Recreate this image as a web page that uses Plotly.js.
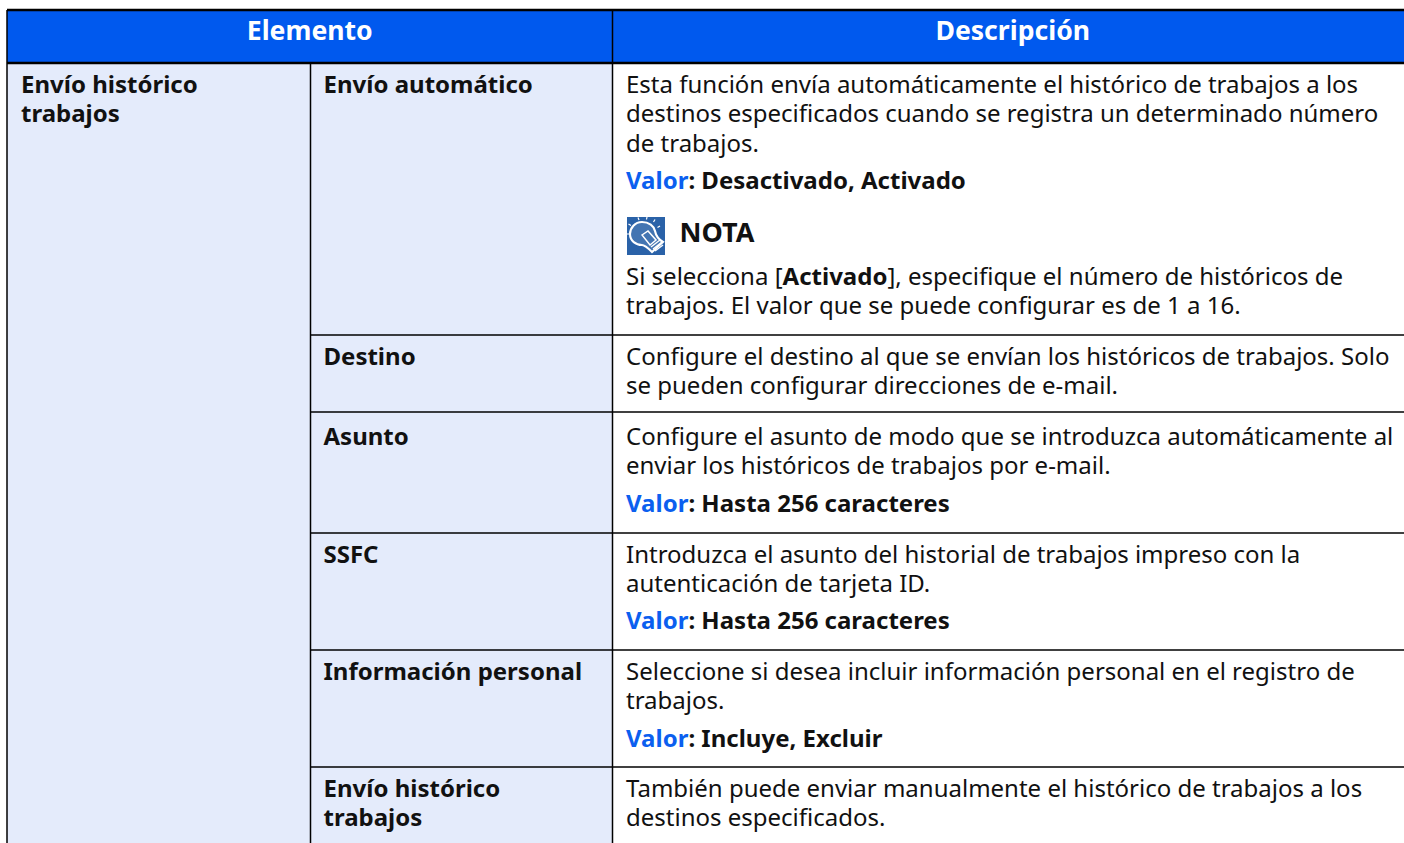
<!DOCTYPE html>
<html><head><meta charset="utf-8">
<script src="https://cdn.plot.ly/plotly-3.0.1.min.js"></script>
<style>html,body{margin:0;padding:0;background:#fff;overflow:hidden}</style>
</head><body><div id="chart" style="width:1404px;height:843px"></div>
<script>
// ---------- content ----------
const headers = ["Elemento", "Descripción"];
const groupLabel = ["Envío histórico", "trabajos"];
const items = [
  ["Envío automático"],
  ["Destino"],
  ["Asunto"],
  ["SSFC"],
  ["Información personal"],
  ["Envío histórico", "trabajos"]
];
const V = t => '<span style="color:#0B5FEF"><b>Valor</b></span><b>: ' + t + '</b>';
const desc1 = ["Esta función envía automáticamente el histórico de trabajos a los",
  "destinos especificados cuando se registra un determinado número",
  "de trabajos."];
const desc1Value = V("Desactivado, Activado");
const noteTitle = "NOTA";
const note = ["Si selecciona [<b>Activado</b>], especifique el número de históricos de",
  "trabajos. El valor que se puede configurar es de 1 a 16."];
const desc2 = ["Configure el destino al que se envían los históricos de trabajos. Solo",
  "se pueden configurar direcciones de e-mail."];
const desc3 = ["Configure el asunto de modo que se introduzca automáticamente al",
  "enviar los históricos de trabajos por e-mail."];
const desc3Value = V("Hasta 256 caracteres");
const desc4 = ["Introduzca el asunto del historial de trabajos impreso con la",
  "autenticación de tarjeta ID."];
const desc4Value = V("Hasta 256 caracteres");
const desc5 = ["Seleccione si desea incluir información personal en el registro de",
  "trabajos."];
const desc5Value = V("Incluye, Excluir");
const desc6 = ["También puede enviar manualmente el histórico de trabajos a los",
  "destinos especificados."];

// ---------- layout of the table on pixel-scaled axes ----------
const FONT = '"Noto Sans", sans-serif', SIZE = 24;
const colX = [7, 310.5, 612.5, 1404];
const rowY = [10, 63, 335, 412, 533, 650, 767, 843];
const xItem = [21, 323.5, 626];
const LH = 29.4, DY = 2;
const BLACK = '#111', HEAD = '#0059EE', CELL = '#E4EBFB';

const shapes = [];
const rect = (x0, y0, x1, y1, c) => shapes.push({type:'rect', xref:'x', yref:'y', x0, y0, x1, y1, fillcolor:c, line:{width:0}, layer:'below'});
const line = (x0, y0, x1, y1, w) => shapes.push({type:'line', xref:'x', yref:'y', x0, y0, x1, y1, line:{color:'#000', width:w}, layer:'below'});

rect(colX[0], rowY[0], colX[3], rowY[1], HEAD);
rect(colX[0], rowY[1], colX[2], rowY[7], CELL);
line(colX[0], rowY[0], colX[3], rowY[0], 2.5);
line(colX[0], rowY[1], colX[3], rowY[1], 2.5);
line(colX[0], rowY[0], colX[0], rowY[7], 1.5);
line(colX[2], rowY[0], colX[2], rowY[7], 1.5);
line(colX[1], rowY[1], colX[1], rowY[7], 1.5);
for (let i = 2; i < 7; i++) line(colX[1], rowY[i], colX[3], rowY[i], 1.5);

// NOTA icon
const P = (d, fill, w) => shapes.push({type:'path', xref:'x', yref:'y', path:d, fillcolor:fill, line:{color:'#fff', width:w}, layer:'below'});
const ix = v => v + 627, iy = v => v + 217;
rect(ix(0), iy(0), ix(38), iy(38), '#2A62A8');
const pts = a => a.map((p,i)=>(i?'L':'M')+ix(p[0])+','+iy(p[1])).join(' ');
const NONE = 'rgba(0,0,0,0)';
P('M'+ix(15)+','+iy(5)+' C'+ix(8)+','+iy(5)+' '+ix(3)+','+iy(11)+' '+ix(3)+','+iy(17)+' C'+ix(3)+','+iy(24)+' '+ix(9)+','+iy(28)+' '+ix(15)+','+iy(28)+' C'+ix(18)+','+iy(28)+' '+ix(21)+','+iy(31)+' '+ix(25)+','+iy(35)+' L'+ix(36)+','+iy(25)+' C'+ix(31)+','+iy(22)+' '+ix(29)+','+iy(19)+' '+ix(28)+','+iy(14)+' C'+ix(27)+','+iy(9)+' '+ix(22)+','+iy(5)+' '+ix(15)+','+iy(5)+' Z', 'rgba(255,255,255,0.12)', 2.1);
P(pts([[15,18],[21,14],[29,23],[23,28]])+' Z', NONE, 1.5);
[[[24,30],[33,23]],[[26,32],[35,25]],[[28,34],[36,28]]].forEach(a=>P(pts(a),NONE,1.4));
[[[11,0.5],[12,3]],[[20,0],[19.5,2.5]],[[28,2.5],[26.5,5]],[[1.5,7],[4,8.5]],[[0,17],[2,17]],[[33,9],[30.5,10.5]]].forEach(a=>P(pts(a),NONE,1.2));

// text traces
const T = {x:[], y:[], t:[]}, H = {x:[], y:[], t:[]}, N = {x:[], y:[], t:[]};
const add = (x, y, lines, bold) => lines.forEach((s,i)=>{T.x.push(x);T.y.push(y+DY+i*LH);T.t.push(bold?'<b>'+s+'</b>':s);});
H.x.push((colX[0]+colX[2])/2,(colX[2]+colX[3])/2+4.5); H.y.push(33,33); H.t.push('<b>'+headers[0]+'</b>','<b>'+headers[1]+'</b>');
add(xItem[0], 85, groupLabel, true);
[85,357,437,555,672,789].forEach((y,i)=>add(xItem[1], y, items[i], true));
add(xItem[2], 85, desc1); add(xItem[2], 181, [desc1Value]);
N.x.push(679.5); N.y.push(235.5); N.t.push('<b>'+noteTitle+'</b>');
add(xItem[2], 277, note);
add(xItem[2], 357, desc2);
add(xItem[2], 437, desc3); add(xItem[2], 504, [desc3Value]);
add(xItem[2], 555, desc4); add(xItem[2], 621, [desc4Value]);
add(xItem[2], 672, desc5); add(xItem[2], 739, [desc5Value]);
add(xItem[2], 789, desc6);

const tr = (o, pos, size, color) => ({type:'scatter', mode:'text', x:o.x, y:o.y, text:o.t, textposition:pos, cliponaxis:false, hoverinfo:'skip', showlegend:false,
  textfont:{family:FONT, size, color}});
const traces = [tr(H,'middle center',26.6,'#fff'), tr(T,'middle right',SIZE,BLACK), tr(N,'middle right',27,BLACK)];

const ax = r => ({range:r, visible:false, fixedrange:true, showgrid:false, zeroline:false});
Plotly.newPlot('chart', traces, {
  width:1404, height:843, margin:{l:0,r:0,t:0,b:0}, paper_bgcolor:'#fff', plot_bgcolor:'#fff',
  xaxis:ax([0,1404]), yaxis:ax([843,0]), shapes
}, {displayModeBar:false, staticPlot:true});
</script></body></html>
